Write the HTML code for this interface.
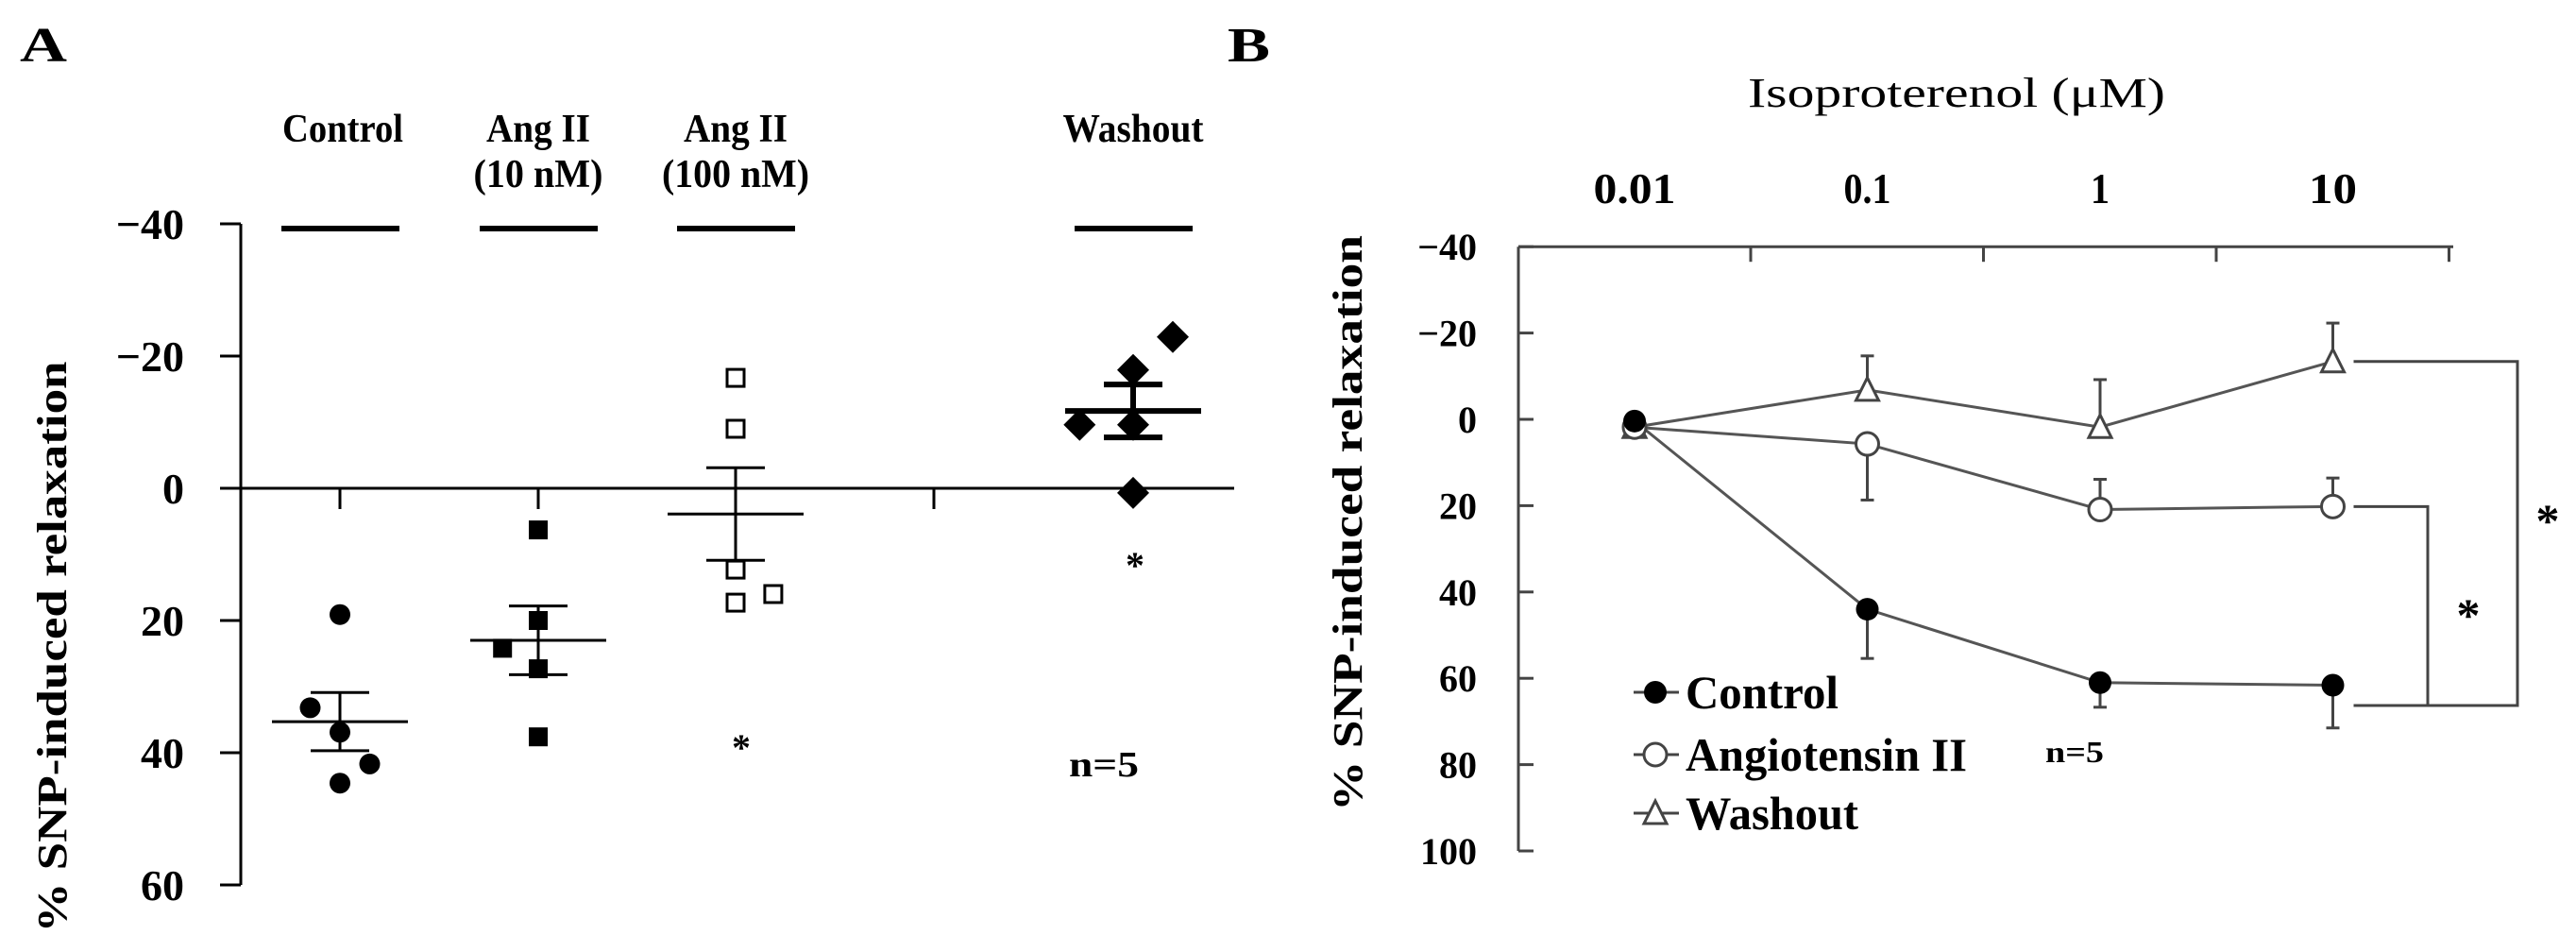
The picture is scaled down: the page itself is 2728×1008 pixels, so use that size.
<!DOCTYPE html>
<html><head><meta charset="utf-8"><style>
html,body{margin:0;padding:0;background:#fff}
svg{display:block}
text{font-family:"Liberation Serif",serif;font-weight:bold;fill:#000}
</style></head><body>
<svg id="fig" width="2728" height="1008" viewBox="0 0 2728 1008" xmlns="http://www.w3.org/2000/svg">
<text x="21" y="65" font-size="52" textLength="50" lengthAdjust="spacingAndGlyphs">A</text>
<text x="1300" y="65" font-size="52" textLength="45" lengthAdjust="spacingAndGlyphs">B</text>
<g id="pa"></g>
<g id="pb"></g>
</svg>
<script>
// ---------- Panel A data ----------
const catsA = ["Control", "Ang II (10 nM)", "Ang II (100 nM)", "Washout"];
const ptsControl = [19.1, 33.2, 36.9, 41.7, 44.6];
const ptsAng10 = [6.3, 20, 24.2, 27.3, 37.6];
const ptsAng100 = [-16.7, -9, 12.3, 17.3, 16];
const ptsWash = [-22.9, -17.9, -9.6, -9.6, 0.7];
const meansA = [35.3, 23, 3.9, -11.7];
const semA = [4.4, 5.2, 7, 4];
const jitterA = [[0,-0.15,0,0.15,0],[0,0,-0.18,0,0],[0,0,0,0,0.19],[0.2,0,-0.27,0,0]];
const ticksA = [-40, -20, 0, 20, 40, 60];
// ---------- Panel B data ----------
const dosesB = ["0.01", "0.1", "1", "10"];
const ctrlB = [0.4, 44, 61, 61.6];
const ctrlErr = [3, 11.4, 5.7, 9.9];
const angB = [1.8, 5.7, 20.9, 20.2];
const angErr = [-3, 13, -7, -6.6];
const washB = [1.8, -6.8, 1.8, -13.4];
const washErr = [-3, -7.9, -11, -8.9];
const ticksB = [-40, -20, 0, 20, 40, 60, 80, 100];

const NS = "http://www.w3.org/2000/svg";
function mk(parent, tag, attrs, txt){const e=document.createElementNS(NS,tag);for(const k in attrs)e.setAttribute(k,attrs[k]);if(txt!==undefined)e.textContent=txt;parent.appendChild(e);return e;}

// ---------- Panel A ----------
const pa = document.getElementById('pa');
const yA = v => 517 + v * 7;
const xA = i => [360, 570, 779, 1200][i];
const xAgap = 989;
let e;
e = mk(pa,'line',{x1:255,y1:yA(-40),x2:255,y2:yA(60),stroke:'#000','stroke-width':3});


ticksA.forEach(t=>{
  e = mk(pa,'line',{x1:233,y1:yA(t),x2:255,y2:yA(t),stroke:'#000','stroke-width':3});
  
  
  e = mk(pa,'text',{x:195,y:yA(t)+16,'font-size':46,'text-anchor':'end'}, t<0?('\u2212'+(-t)):String(t));
  
  
});
e = mk(pa,'line',{x1:255,y1:yA(0),x2:1307,y2:yA(0),stroke:'#000','stroke-width':3});


[xA(0),xA(1),xAgap].forEach(x=>{
  e = mk(pa,'line',{x1:x,y1:yA(0),x2:x,y2:yA(0)+22,stroke:'#000','stroke-width':3});
  
  
});
e = mk(pa,'text',{transform:'translate(70,685) rotate(-90)','font-size':44,'text-anchor':'middle',textLength:605,lengthAdjust:'spacingAndGlyphs'},'% SNP-induced relaxation');


const labLines = [["Control"],["Ang II","(10 nM)"],["Ang II","(100 nM)"],["Washout"]];
const labW = [[128],[110,137],[110,156],[149]];
labLines.forEach((ls,i)=>{
  ls.forEach((s,j)=>{
    e = mk(pa,'text',{x:xA(i)+(i==0?3:0),y:150+j*48,'font-size':42,'text-anchor':'middle',textLength:labW[i][j],lengthAdjust:'spacingAndGlyphs'},s);
    
    
  });
  e = mk(pa,'line',{x1:xA(i)-62,y1:242,x2:xA(i)+63,y2:242,stroke:'#000','stroke-width':6});
  
  
});
const ptsAll = [ptsControl, ptsAng10, ptsAng100, ptsWash];
ptsAll.forEach((arr,i)=>{
  arr.forEach((v,j)=>{
    const cx = xA(i) + jitterA[i][j]*210, cy = yA(v);
    if(i===0){ e = mk(pa,'circle',{cx:cx,cy:cy,r:11,fill:'#000'}); }
    else if(i===1){ e = mk(pa,'rect',{x:cx-10,y:cy-10,width:20,height:20,fill:'#000'}); }
    else if(i===2){ e = mk(pa,'rect',{x:cx-9,y:cy-9,width:18,height:18,fill:'#fff',stroke:'#000','stroke-width':3}); }
    else { e = mk(pa,'polygon',{points:`${cx},${cy-17} ${cx+17},${cy} ${cx},${cy+17} ${cx-17},${cy}`,fill:'#000'}); }
    
    
  });
  const m = meansA[i], s = semA[i], x = xA(i);
  e = mk(pa,'line',{x1:x-72,y1:yA(m),x2:x+72,y2:yA(m),stroke:'#000','stroke-width':i==3?6:3});
  
  
  e = mk(pa,'line',{x1:x,y1:yA(m-s),x2:x,y2:yA(m+s),stroke:'#000','stroke-width':i==3?6:3});
  
  
  [m-s,m+s].forEach(v=>{
    e = mk(pa,'line',{x1:x-31,y1:yA(v),x2:x+31,y2:yA(v),stroke:'#000','stroke-width':i==3?6:3});
    
    
  });
});
e = mk(pa,'text',{x:785,y:805,'font-size':40,'text-anchor':'middle'},'*');


e = mk(pa,'text',{x:1202,y:612,'font-size':40,'text-anchor':'middle'},'*');


e = mk(pa,'text',{x:1169,y:822,'font-size':38,'text-anchor':'middle',textLength:74,lengthAdjust:'spacingAndGlyphs'},'n=5');



// ---------- Panel B ----------
const pb = document.getElementById('pb');
const yB = v => 444 + v * 4.57;
const xB = i => 1731 + i * 246.5;
e = mk(pb,'line',{x1:1608,y1:yB(-40),x2:1608,y2:yB(100),stroke:'#444','stroke-width':3});


e = mk(pb,'line',{x1:1608,y1:yB(-40),x2:2598,y2:yB(-40),stroke:'#444','stroke-width':3});


ticksB.forEach(t=>{
  e = mk(pb,'line',{x1:1608,y1:yB(t),x2:1624,y2:yB(t),stroke:'#444','stroke-width':3});
  
  
  e = mk(pb,'text',{x:1564,y:yB(t)+14,'font-size':40,'text-anchor':'end'}, t<0?('\u2212'+(-t)):String(t));
  
  
});
[0,1,2,3].forEach(i=>{
  const x = xB(i)+123;
  e = mk(pb,'line',{x1:x,y1:yB(-40),x2:x,y2:yB(-40)+16,stroke:'#444','stroke-width':3});
  
  
});
const doseW = [87,50,20,51];
dosesB.forEach((d,i)=>{
  e = mk(pb,'text',{x:xB(i),y:215,'font-size':46,'text-anchor':'middle',textLength:doseW[i],lengthAdjust:'spacingAndGlyphs'},d);
  
  
});
e = mk(pb,'text',{x:2072,y:113,'font-size':44,'text-anchor':'middle',textLength:442,lengthAdjust:'spacingAndGlyphs',style:'font-weight:normal'},'Isoproterenol (\u03bcM)');


e = mk(pb,'text',{transform:'translate(1442,554) rotate(-90)','font-size':44,'text-anchor':'middle',textLength:610,lengthAdjust:'spacingAndGlyphs'},'% SNP-induced relaxation');


const seriesB = [[washB,washErr,'tri'],[angB,angErr,'open'],[ctrlB,ctrlErr,'fill']];
seriesB.forEach(([vals,errs,kind])=>{
  vals.forEach((v,i)=>{
    e = mk(pb,'line',{x1:xB(i),y1:yB(v),x2:xB(i),y2:yB(v+errs[i]),stroke:'#444','stroke-width':3});
    
    
    e = mk(pb,'line',{x1:xB(i)-7,y1:yB(v+errs[i]),x2:xB(i)+7,y2:yB(v+errs[i]),stroke:'#444','stroke-width':3});
    
    
  });
  e = mk(pb,'polyline',{points:vals.map((v,i)=>xB(i)+','+yB(v)).join(' '),fill:'none',stroke:'#555','stroke-width':3});
  
  
});
function marker(g,kind,cx,cy){
  let m;
  if(kind==='fill') m = mk(g,'circle',{cx:cx,cy:cy,r:12,fill:'#000'});
  else if(kind==='open') m = mk(g,'circle',{cx:cx,cy:cy,r:12,fill:'#fff',stroke:'#444','stroke-width':3});
  else m = mk(g,'polygon',{points:`${cx},${cy-13} ${cx+12},${cy+11} ${cx-12},${cy+11}`,fill:'#fff',stroke:'#444','stroke-width':3});
  return m;
}
seriesB.forEach(([vals,errs,kind])=>{
  vals.forEach((v,i)=>{
    e = marker(pb,kind,xB(i),yB(v));
    
    
  });
});
const bx = xB(3)+22;
e = mk(pb,'polyline',{points:`${bx},${yB(angB[3])} 2571,${yB(angB[3])} 2571,747`,fill:'none',stroke:'#444','stroke-width':3});


e = mk(pb,'polyline',{points:`${bx},${yB(washB[3])} 2666,${yB(washB[3])} 2666,747 ${bx},747`,fill:'none',stroke:'#444','stroke-width':3});


e = mk(pb,'text',{x:2614,y:668,'font-size':50,'text-anchor':'middle'},'*');


e = mk(pb,'text',{x:2698,y:568,'font-size':50,'text-anchor':'middle'},'*');


e = mk(pb,'text',{x:2197,y:807,'font-size':32,'text-anchor':'middle',textLength:62,lengthAdjust:'spacingAndGlyphs'},'n=5');


const legNames = ["Control","Angiotensin II","Washout"];
const legKinds = ['fill','open','tri'];
const legW = [162,298,183];
const legY = [750,816,878];
legNames.forEach((n,i)=>{
  const cy = legY[i]-17;
  e = mk(pb,'line',{x1:1730,y1:cy,x2:1778,y2:cy,stroke:'#444','stroke-width':3});
  
  
  e = marker(pb,legKinds[i],1753,cy);
  
  
  e = mk(pb,'text',{x:1785,y:legY[i],'font-size':50,textLength:legW[i],lengthAdjust:'spacingAndGlyphs'},n);
  
  
});
</script>
</body></html>
